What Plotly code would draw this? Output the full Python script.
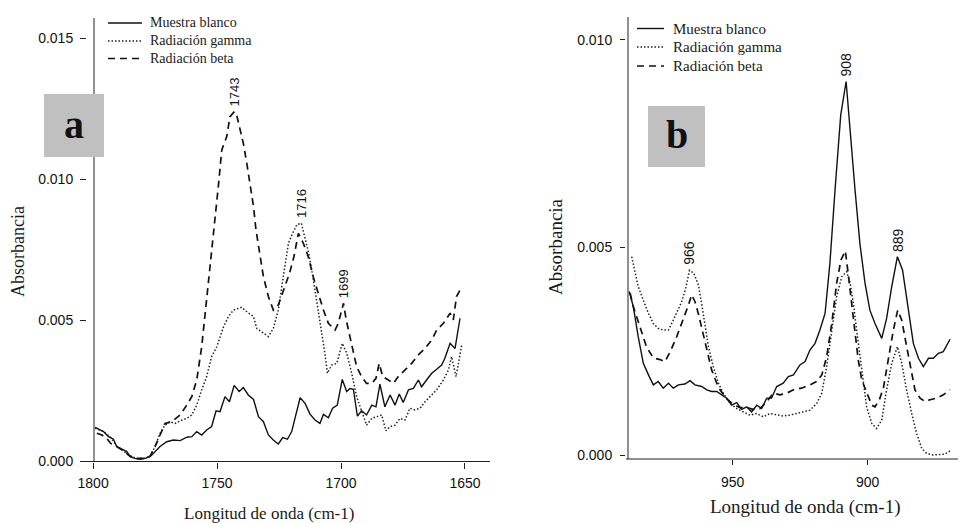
import plotly.graph_objects as go

# ---------------- Panel a: carbonyl region (1800-1650 cm-1) ----------------
wn_a_blanco = [1799.2, 1795.8, 1793.8, 1791.8, 1790.5, 1788.4, 1786.4, 1785.1, 1783.1, 1781.0,
               1779.0, 1777.0, 1775.0, 1773.0, 1770.3, 1767.6, 1764.9, 1762.2, 1760.2, 1758.2,
               1756.2, 1754.2, 1752.2, 1750.4, 1748.8, 1746.8, 1745.0, 1743.1, 1741.1, 1739.4,
               1737.4, 1735.3, 1733.3, 1731.3, 1729.3, 1727.3, 1725.3, 1723.5, 1721.6, 1719.9,
               1716.5, 1714.5, 1712.5, 1710.5, 1708.5, 1707.1, 1705.1, 1703.4, 1701.5, 1699.5,
               1697.7, 1696.4, 1695.0, 1693.4, 1691.7, 1689.7, 1687.6, 1685.9, 1684.3, 1682.3,
               1680.2, 1678.2, 1676.5, 1674.9, 1672.8, 1670.8, 1668.8, 1667.5, 1665.5, 1663.4,
               1661.4, 1659.4, 1658.1, 1656.0, 1654.0, 1652.0]
abs_a_blanco = [0.00121, 0.00106, 0.00088, 0.00079, 0.00053, 0.00043, 0.00035, 0.00017, 0.00011, 0.00008,
                0.00011, 0.00017, 0.00035, 0.00053, 0.00070, 0.00076, 0.00074, 0.00086, 0.00088, 0.00106,
                0.00094, 0.00112, 0.00124, 0.00180, 0.00177, 0.00230, 0.00212, 0.00270, 0.00248, 0.00262,
                0.00236, 0.00220, 0.00159, 0.00141, 0.00094, 0.00076, 0.00062, 0.00085, 0.00079, 0.00106,
                0.00226, 0.00206, 0.00168, 0.00147, 0.00135, 0.00167, 0.00155, 0.00189, 0.00200, 0.00291,
                0.00248, 0.00259, 0.00256, 0.00161, 0.00180, 0.00165, 0.00200, 0.00194, 0.00274, 0.00194,
                0.00236, 0.00200, 0.00239, 0.00209, 0.00254, 0.00259, 0.00289, 0.00265, 0.00289, 0.00313,
                0.00327, 0.00342, 0.00366, 0.00419, 0.00401, 0.00508]

wn_a_gamma = [1799.2, 1795.8, 1793.1, 1790.5, 1787.8, 1785.1, 1782.4, 1779.7, 1777.0, 1775.0,
              1773.0, 1771.0, 1769.0, 1766.9, 1764.2, 1762.2, 1760.2, 1758.2, 1756.2, 1754.2,
              1752.2, 1750.1, 1747.4, 1745.4, 1743.4, 1740.1, 1738.0, 1735.3, 1734.0, 1732.0,
              1729.3, 1727.3, 1725.3, 1723.3, 1721.2, 1719.5, 1717.8, 1716.0, 1714.5, 1713.2,
              1711.8, 1709.8, 1707.8, 1706.5, 1705.5, 1703.8, 1701.7, 1699.5, 1697.7, 1695.7,
              1693.7, 1691.7, 1689.7, 1687.6, 1685.6, 1683.6, 1681.9, 1680.2, 1678.2, 1676.2,
              1674.2, 1672.2, 1670.2, 1668.1, 1666.1, 1664.1, 1661.4, 1658.7, 1656.7, 1655.4,
              1653.6, 1651.3]
abs_a_gamma = [0.00118, 0.00106, 0.00088, 0.00055, 0.00038, 0.00019, 0.00011, 0.00011, 0.00019, 0.00053,
               0.00100, 0.00129, 0.00141, 0.00135, 0.00147, 0.00153, 0.00165, 0.00200, 0.00254, 0.00301,
               0.00372, 0.00407, 0.00478, 0.00514, 0.00537, 0.00547, 0.00531, 0.00514, 0.00472, 0.00460,
               0.00443, 0.00472, 0.00537, 0.00655, 0.00774, 0.00810, 0.00840, 0.00845, 0.00790, 0.00745,
               0.00679, 0.00573, 0.00466, 0.00384, 0.00313, 0.00342, 0.00348, 0.00419, 0.00384, 0.00313,
               0.00230, 0.00183, 0.00129, 0.00153, 0.00159, 0.00165, 0.00109, 0.00124, 0.00129, 0.00153,
               0.00147, 0.00189, 0.00183, 0.00189, 0.00212, 0.00230, 0.00254, 0.00289, 0.00324, 0.00372,
               0.00301, 0.00413]

wn_a_beta = [1798.5, 1796.5, 1794.5, 1792.9, 1790.5, 1787.8, 1785.1, 1782.4, 1779.7, 1777.0,
             1775.0, 1773.0, 1771.0, 1768.3, 1764.9, 1762.2, 1760.2, 1758.2, 1756.2, 1754.8,
             1753.5, 1752.2, 1750.8, 1749.5, 1748.1, 1746.1, 1744.8, 1743.0, 1742.1, 1740.7,
             1739.4, 1738.0, 1736.7, 1735.3, 1734.3, 1732.7, 1731.3, 1729.3, 1727.3, 1725.3,
             1723.3, 1720.8, 1719.0, 1717.2, 1715.2, 1713.2, 1711.2, 1709.1, 1707.1, 1705.1,
             1702.4, 1701.1, 1699.0, 1697.9, 1697.0, 1695.7, 1693.7, 1691.7, 1689.7, 1687.6,
             1685.9, 1684.6, 1683.2, 1680.9, 1678.9, 1676.9, 1674.2, 1671.5, 1668.8, 1666.1,
             1663.4, 1661.4, 1658.7, 1656.0, 1654.7, 1653.4, 1652.0]
abs_a_beta = [0.00100, 0.00094, 0.00082, 0.00064, 0.00053, 0.00038, 0.00019, 0.00011, 0.00011, 0.00019,
              0.00053, 0.00094, 0.00135, 0.00141, 0.00165, 0.00200, 0.00230, 0.00289, 0.00407, 0.00525,
              0.00632, 0.00750, 0.00868, 0.00975, 0.01105, 0.01152, 0.01223, 0.01241, 0.01229, 0.01182,
              0.01128, 0.01057, 0.00986, 0.00904, 0.00821, 0.00726, 0.00655, 0.00585, 0.00537, 0.00555,
              0.00608, 0.00667, 0.00726, 0.00809, 0.00774, 0.00726, 0.00655, 0.00596, 0.00537, 0.00490,
              0.00466, 0.00490, 0.00561, 0.00502, 0.00466, 0.00407, 0.00336, 0.00301, 0.00277, 0.00277,
              0.00295, 0.00348, 0.00301, 0.00289, 0.00277, 0.00301, 0.00324, 0.00348, 0.00378, 0.00401,
              0.00431, 0.00466, 0.00490, 0.00526, 0.00502, 0.00585, 0.00608]

# ---------------- Panel b: 990-870 cm-1 region ----------------
wn_b_blanco = [988.3, 986.8, 985.0, 983.1, 981.2, 979.4, 977.6, 975.7, 973.8, 972.0,
               970.1, 967.7, 965.8, 964.0, 961.5, 959.6, 957.8, 955.9, 954.1, 952.2,
               950.4, 948.5, 946.7, 944.8, 943.0, 941.1, 939.3, 937.4, 935.6, 933.7,
               931.3, 929.4, 927.5, 925.1, 923.2, 921.4, 919.5, 917.7, 915.8, 914.0,
               912.1, 910.0, 908.0, 906.3, 904.7, 902.9, 901.0, 899.2, 897.3, 894.8,
               893.0, 891.1, 889.0, 887.1, 885.6, 883.1, 881.2, 879.4, 877.5, 875.7,
               873.8, 872.0, 869.5]
abs_b_blanco = [0.00394, 0.00357, 0.00285, 0.00221, 0.00193, 0.00169, 0.00177, 0.00161, 0.00173, 0.00161,
                0.00169, 0.00171, 0.00179, 0.00169, 0.00165, 0.00157, 0.00153, 0.00153, 0.00145, 0.00137,
                0.00120, 0.00126, 0.00110, 0.00116, 0.00104, 0.00120, 0.00112, 0.00137, 0.00137, 0.00165,
                0.00173, 0.00189, 0.00193, 0.00217, 0.00225, 0.00253, 0.00269, 0.00301, 0.00341, 0.00462,
                0.00639, 0.00819, 0.00900, 0.00759, 0.00639, 0.00510, 0.00414, 0.00349, 0.00317, 0.00281,
                0.00329, 0.00406, 0.00478, 0.00446, 0.00382, 0.00269, 0.00233, 0.00213, 0.00233, 0.00233,
                0.00245, 0.00249, 0.00279]

wn_b_gamma = [987.4, 986.2, 985.0, 983.1, 981.2, 979.4, 977.6, 975.7, 973.8, 972.6,
              970.8, 968.9, 967.3, 966.0, 964.4, 962.7, 961.5, 960.3, 959.0, 957.2,
              955.3, 953.5, 951.0, 948.5, 946.1, 943.6, 941.1, 938.7, 936.2, 933.7,
              931.3, 928.8, 926.3, 923.8, 921.4, 918.9, 917.0, 915.2, 913.3, 911.5,
              909.6, 907.8, 906.5, 905.3, 904.1, 902.9, 901.6, 900.4, 898.5, 896.7,
              894.8, 893.0, 891.1, 889.0, 887.4, 885.6, 883.7, 881.9, 880.0, 878.2,
              875.7, 873.2, 871.4, 869.5]
abs_b_gamma = [0.00478, 0.00438, 0.00406, 0.00373, 0.00341, 0.00317, 0.00305, 0.00301, 0.00301, 0.00317,
               0.00341, 0.00369, 0.00405, 0.00445, 0.00438, 0.00410, 0.00365, 0.00317, 0.00261, 0.00213,
               0.00173, 0.00149, 0.00124, 0.00112, 0.00104, 0.00096, 0.00100, 0.00092, 0.00100, 0.00096,
               0.00094, 0.00096, 0.00100, 0.00104, 0.00108, 0.00124, 0.00149, 0.00213, 0.00301, 0.00382,
               0.00430, 0.00442, 0.00414, 0.00365, 0.00301, 0.00237, 0.00173, 0.00116, 0.00076, 0.00064,
               0.00084, 0.00157, 0.00221, 0.00261, 0.00221, 0.00157, 0.00100, 0.00052, 0.00016, 0.00004,
               0.00000, 0.00002, 0.00002, 0.00010]

wn_b_beta = [988.0, 986.8, 984.3, 981.9, 979.4, 976.9, 975.1, 973.2, 970.8, 968.3,
             966.4, 965.2, 964.0, 962.7, 961.5, 959.6, 957.8, 955.9, 954.7, 952.2,
             949.8, 947.3, 944.8, 942.4, 939.9, 937.4, 935.0, 932.5, 930.0, 927.5,
             924.5, 921.4, 918.9, 917.0, 915.2, 913.3, 911.5, 909.9, 908.3, 907.4,
             906.2, 904.7, 903.5, 902.2, 900.4, 898.5, 897.3, 895.7, 894.2, 892.4,
             890.5, 888.9, 887.4, 885.8, 884.3, 882.5, 880.6, 878.8, 876.9, 874.5,
             872.0, 869.5]
abs_b_beta = [0.00390, 0.00357, 0.00308, 0.00260, 0.00234, 0.00230, 0.00225, 0.00248, 0.00284, 0.00325,
              0.00361, 0.00386, 0.00370, 0.00340, 0.00308, 0.00253, 0.00205, 0.00173, 0.00157, 0.00135,
              0.00122, 0.00114, 0.00114, 0.00110, 0.00112, 0.00128, 0.00149, 0.00145, 0.00149, 0.00157,
              0.00161, 0.00169, 0.00177, 0.00193, 0.00237, 0.00317, 0.00414, 0.00470, 0.00492, 0.00446,
              0.00382, 0.00301, 0.00229, 0.00181, 0.00153, 0.00120, 0.00116, 0.00133, 0.00161, 0.00229,
              0.00301, 0.00349, 0.00325, 0.00269, 0.00221, 0.00157, 0.00137, 0.00129, 0.00133, 0.00137,
              0.00145, 0.00157]

# Labelled absorption maxima: (wavenumber, absorbance)
peaks_a = [(1743, 0.01241), (1716, 0.00845), (1699, 0.00561)]
peaks_b = [(966, 0.00445), (908, 0.00900), (889, 0.00478)]

series_names = ["Muestra blanco", "Radiación gamma", "Radiación beta"]
line_styles = {
    "Muestra blanco": dict(color="#111111", width=1.4, dash="solid"),
    "Radiación gamma": dict(color="#222222", width=1.5, dash="1.5px,2px"),
    "Radiación beta": dict(color="#111111", width=1.7, dash="7px,5px"),
}

W, H = 959, 524
SERIF = "Liberation Serif, Times New Roman, serif"
SANS = "Liberation Sans, Arial, sans-serif"


def fx(p):
    return p / W


def fy(p):
    return 1 - p / H


fig = go.Figure()

panel_a = [(wn_a_blanco, abs_a_blanco), (wn_a_gamma, abs_a_gamma), (wn_a_beta, abs_a_beta)]
panel_b = [(wn_b_blanco, abs_b_blanco), (wn_b_gamma, abs_b_gamma), (wn_b_beta, abs_b_beta)]

for name, (wx, ay) in zip(series_names, panel_a):
    fig.add_trace(go.Scatter(x=wx, y=ay, mode="lines", name=name, line=line_styles[name],
                             xaxis="x", yaxis="y", showlegend=False, hoverinfo="skip"))
for name, (wx, ay) in zip(series_names, panel_b):
    fig.add_trace(go.Scatter(x=wx, y=ay, mode="lines", name=name, line=line_styles[name],
                             xaxis="x2", yaxis="y2", showlegend=False, hoverinfo="skip"))

tick_font = dict(family=SANS, size=14, color="#111111")
common_axis = dict(showgrid=False, zeroline=False, showline=False, ticks="outside",
                   tickcolor="#222222", tickwidth=1, tickfont=tick_font, automargin=False)

fig.update_layout(
    template="none",
    width=W, height=H,
    margin=dict(l=0, r=0, t=0, b=0, pad=0, autoexpand=False),
    paper_bgcolor="white", plot_bgcolor="white",
    showlegend=False,
    xaxis=dict(domain=[fx(93), fx(490)], range=[1800.05, 1639.9], anchor="y",
               tickvals=[1800, 1750, 1700, 1650], ticklen=6, ticklabelstandoff=3, **common_axis),
    yaxis=dict(domain=[fy(461.5), fy(18)], range=[0, 0.015727], anchor="free", position=fx(86),
               tickvals=[0, 0.005, 0.010, 0.015], ticktext=["0.000", "0.005", "0.010", "0.015"],
               ticklen=6, ticklabelstandoff=4, **common_axis),
    xaxis2=dict(domain=[fx(626), fx(958)], range=[989.52, 866.56], anchor="y2",
                tickvals=[950, 900], ticklen=5, ticklabelstandoff=5, **common_axis),
    yaxis2=dict(domain=[fy(459), fy(17)], range=[-0.0000964, 0.010554], anchor="free",
                position=fx(625), tickvals=[0, 0.005, 0.010],
                ticktext=["0.000", "0.005", "0.010"], ticklen=5, ticklabelstandoff=5, **common_axis),
)

shapes = []
axis_line = dict(color="#222222", width=1)
# axis lines
shapes.append(dict(type="line", xref="paper", yref="paper", x0=fx(94), x1=fx(94),
                   y0=fy(461.5), y1=fy(18), line=axis_line))
shapes.append(dict(type="line", xref="paper", yref="paper", x0=fx(83), x1=fx(490),
                   y0=fy(461.5), y1=fy(461.5), line=axis_line))
shapes.append(dict(type="line", xref="paper", yref="paper", x0=fx(628), x1=fx(628),
                   y0=fy(459), y1=fy(17), line=axis_line))
shapes.append(dict(type="line", xref="paper", yref="paper", x0=fx(626), x1=fx(958),
                   y0=fy(459), y1=fy(459), line=axis_line))
# panel tags
shapes.append(dict(type="rect", xref="paper", yref="paper", x0=fx(44), x1=fx(104),
                   y0=fy(157), y1=fy(94), fillcolor="#c0c0c0", line=dict(width=0)))
shapes.append(dict(type="rect", xref="paper", yref="paper", x0=fx(648), x1=fx(705),
                   y0=fy(167), y1=fy(106), fillcolor="#c0c0c0", line=dict(width=0)))

annotations = []
annotations.append(dict(text="<b>a</b>", x=fx(74), y=fy(124), xref="paper", yref="paper",
                        xanchor="center", yanchor="middle", showarrow=False,
                        font=dict(family=SERIF, size=40, color="#111111")))
annotations.append(dict(text="<b>b</b>", x=fx(677), y=fy(134), xref="paper", yref="paper",
                        xanchor="center", yanchor="middle", showarrow=False,
                        font=dict(family=SERIF, size=40, color="#111111")))

# legends drawn per panel: line start, line end, text start, row centres, font size
legend_rows = [
    (108, 142, 148, [23, 41, 58.5], 14),
    (637, 664, 671, [28.5, 47, 66], 15),
]
for x0, x1, xt, ys, fs in legend_rows:
    for name, yy in zip(series_names, ys):
        st = line_styles[name]
        shapes.append(dict(type="line", xref="paper", yref="paper", x0=fx(x0), x1=fx(x1),
                           y0=fy(yy), y1=fy(yy),
                           line=dict(color=st["color"], width=st["width"], dash=st["dash"])))
        annotations.append(dict(text=name, x=fx(xt), y=fy(yy), xref="paper", yref="paper",
                                xanchor="left", yanchor="middle", showarrow=False,
                                font=dict(family=SERIF, size=fs, color="#1a1a1a")))

# axis titles
title_common = dict(xref="paper", yref="paper", xanchor="center", yanchor="middle", showarrow=False)
annotations.append(dict(text="Longitud de onda (cm-1)", x=fx(269), y=fy(513),
                        font=dict(family=SERIF, size=17, color="#1a1a1a"), **title_common))
annotations.append(dict(text="Longitud de onda (cm-1)", x=fx(805), y=fy(507),
                        font=dict(family=SERIF, size=19, color="#1a1a1a"), **title_common))
annotations.append(dict(text="Absorbancia", x=fx(18), y=fy(252), textangle=-90,
                        font=dict(family=SERIF, size=18, color="#1a1a1a"), **title_common))
annotations.append(dict(text="Absorbancia", x=fx(555), y=fy(247), textangle=-90,
                        font=dict(family=SERIF, size=19, color="#1a1a1a"), **title_common))

# peak labels
for wn, ab in peaks_a:
    annotations.append(dict(text=str(wn), x=wn, y=ab, xref="x", yref="y", textangle=-90,
                            xanchor="center", yanchor="bottom", yshift=3, showarrow=False,
                            font=dict(family=SANS, size=13, color="#111111")))
for wn, ab in peaks_b:
    annotations.append(dict(text=str(wn), x=wn, y=ab, xref="x2", yref="y2", textangle=-90,
                            xanchor="center", yanchor="bottom", yshift=3, showarrow=False,
                            font=dict(family=SANS, size=14, color="#111111")))

fig.update_layout(shapes=shapes, annotations=annotations)
fig.write_html("out.html")
